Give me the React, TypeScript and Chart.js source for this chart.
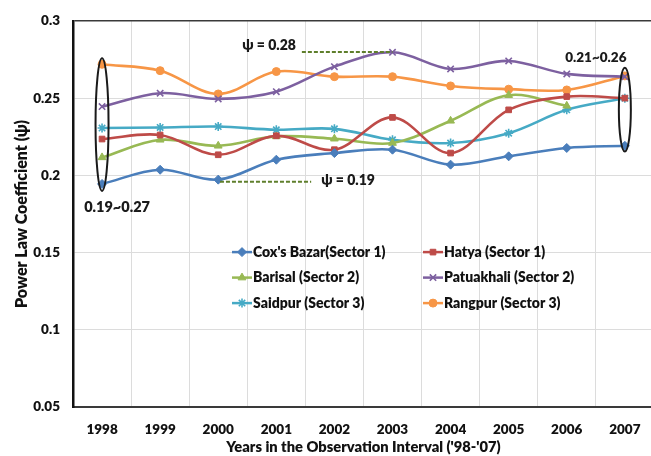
import { useEffect, useRef } from 'react';
import { Chart, registerables } from 'chart.js';
import { drawPoint } from 'chart.js/helpers';

Chart.register(...registerables);

const years = ['1998', '1999', '2000', '2001', '2002', '2003', '2004', '2005', '2006', '2007'];

const coxsBazar = [0.1945, 0.2037, 0.1973, 0.2102, 0.2145, 0.2167, 0.207, 0.2124, 0.2178, 0.2192];
const hatya = [0.2236, 0.2262, 0.2134, 0.2257, 0.2167, 0.2376, 0.2145, 0.2425, 0.2511, 0.2501];
const barisal = [0.2117, 0.2231, 0.2192, 0.2253, 0.2238, 0.221, 0.2354, 0.252, 0.2451, null];
const patuakhali = [0.2446, 0.2533, 0.2496, 0.2543, 0.2705, 0.2798, 0.269, 0.2742, 0.2658, 0.264];
const saidpur = [0.2307, 0.2311, 0.2317, 0.2296, 0.2302, 0.2231, 0.221, 0.2274, 0.2425, 0.25];
const rangpur = [0.272, 0.2679, 0.2528, 0.2673, 0.264, 0.264, 0.258, 0.2559, 0.2554, 0.2645];

const seriesNames = [
  "Cox's Bazar(Sector 1)",
  'Hatya (Sector 1)',
  'Barisal (Sector 2)',
  'Patuakhali (Sector 2)',
  'Saidpur (Sector 3)',
  'Rangpur (Sector 3)',
];

const yMin = 0.05;
const yMax = 0.3;
const yStep = 0.05;

// range brackets (ellipses) drawn around a year's spread of values
const rangeIndex = [0, 9];
const rangeLow = [0.19, 0.2155];
const rangeHigh = [0.276, 0.2697];
const rangeText = ['0.19~0.27', '0.21~0.26'];

// dashed call-outs to extreme values
const calloutValue = [0.28, 0.196];
const calloutFrom = [3.44, 2.03];
const calloutTo = [5, 3.6];
const calloutText = ['\u03C8 = 0.28', '\u03C8 = 0.19'];

const FONT = "Lato, 'DejaVu Sans', sans-serif";
const W = 800;

const colors = ['#4A7EBB', '#BE4B48', '#98B954', '#7D60A0', '#46AAC5', '#F79646'];
const styles = ['rectRot', 'rect', 'triangle', 'crossRot', 'star', 'circle'];
const radii = [4.5, 4, 4.5, 4.5, 4.5, 4];

const overlayPlugin = {
  id: 'overlay',
  afterDatasetsDraw(chart: any) {
    const { ctx, chartArea, scales } = chart;
    const xs = scales.x;
    const ys = scales.y;
    ctx.save();

    // ellipses + range labels
    ctx.fillStyle = '#1a1a1a';
    ctx.textBaseline = 'middle';
    for (let i = 0; i < rangeIndex.length; i++) {
      const cx = xs.getPixelForValue(rangeIndex[i]);
      const yTop = ys.getPixelForValue(rangeHigh[i]);
      const yBot = ys.getPixelForValue(rangeLow[i]);
      ctx.beginPath();
      ctx.strokeStyle = '#1a1a1a';
      ctx.lineWidth = 2;
      ctx.ellipse(cx, (yTop + yBot) / 2, i === 0 ? 6.5 : 6, (yBot - yTop) / 2, 0, 0, Math.PI * 2);
      ctx.stroke();
      ctx.textAlign = 'center';
      if (i === 0) {
        ctx.font = `${W} 14.5px ${FONT}`;
        ctx.fillText(rangeText[i], cx + 15, yBot + 16);
      } else {
        ctx.font = `${W} 13.5px ${FONT}`;
        ctx.fillText(rangeText[i], cx - 29, yTop - 10);
      }
    }

    // dashed callouts
    ctx.font = `${W} 14px ${FONT}`;
    for (let i = 0; i < calloutValue.length; i++) {
      const y = ys.getPixelForValue(calloutValue[i]);
      const x1 = xs.getPixelForValue(calloutFrom[i]);
      const x2 = xs.getPixelForValue(calloutTo[i]);
      ctx.beginPath();
      ctx.setLineDash([4, 2]);
      ctx.strokeStyle = '#5F7F2C';
      ctx.lineWidth = 2;
      ctx.moveTo(x1, y);
      ctx.lineTo(x2, y);
      ctx.stroke();
      ctx.setLineDash([]);
      ctx.fillStyle = '#1a1a1a';
      if (i === 0) {
        ctx.textAlign = 'right';
        ctx.fillText(calloutText[i], x1 - 6, y - 6);
      } else {
        ctx.textAlign = 'left';
        ctx.fillText(calloutText[i], x2 + 10, y - 1);
      }
    }

    // legend inside the plot area, 2 columns x 3 rows
    ctx.font = `${W} 14px ${FONT}`;
    ctx.textAlign = 'left';
    chart.data.datasets.forEach((ds: any, i: number) => {
      const col = i % 2;
      const row = Math.floor(i / 2);
      const x0 = chartArea.left + 159 + col * 191;
      const y0 = chartArea.top + 231 + row * 25.5;
      ctx.beginPath();
      ctx.strokeStyle = ds.borderColor;
      ctx.lineWidth = 2.5;
      ctx.moveTo(x0, y0);
      ctx.lineTo(x0 + 20, y0);
      ctx.stroke();
      ctx.fillStyle = ds.pointBackgroundColor;
      ctx.strokeStyle = ds.pointBorderColor;
      ctx.lineWidth = ds.pointBorderWidth;
      drawPoint(ctx, { pointStyle: ds.pointStyle, radius: ds.pointRadius, rotation: 0, borderWidth: ds.pointBorderWidth }, x0 + 10, y0);
      ctx.fillStyle = '#111';
      ctx.fillText(ds.label, x0 + 21, y0);
    });
    ctx.restore();
  },
};

export default function App() {
  const ref = useRef<HTMLCanvasElement>(null);
  useEffect(() => {
    const seriesValues = [coxsBazar, hatya, barisal, patuakhali, saidpur, rangpur];
    const chart = new Chart(ref.current!, {
      type: 'line',
      data: {
        labels: years,
        datasets: seriesValues.map((vals, i) => ({
          label: seriesNames[i],
          data: vals,
          borderColor: colors[i],
          backgroundColor: colors[i],
          pointBackgroundColor: colors[i],
          pointBorderColor: colors[i],
          pointBorderWidth: styles[i] === 'crossRot' || styles[i] === 'star' ? 1.6 : 1,
          pointStyle: styles[i] as any,
          pointRadius: radii[i],
          borderWidth: 2.6,
          tension: 0.35,
          fill: false,
        })),
      },
      options: {
        animation: false,
        responsive: true,
        maintainAspectRatio: false,
        layout: { padding: { left: 0, right: 2, top: 21, bottom: 0 } },
        plugins: {
          legend: { display: false },
          tooltip: { enabled: false },
        },
        scales: {
          x: {
            type: 'category',
            offset: true,
            grid: { offset: true, color: '#DCDCDC', lineWidth: 1, drawTicks: false },
            border: { display: true, color: '#3a3a3a', width: 2 },
            ticks: { color: '#111', font: { family: FONT, size: 13.5, weight: W as any }, padding: 15, maxRotation: 0, autoSkip: false },
            title: {
              display: true,
              text: "Years in the Observation Interval ('98-'07)",
              color: '#111',
              font: { family: FONT, size: 14.7, weight: W as any },
              padding: { top: 0, bottom: 0 },
            },
            afterFit: (s: any) => { s.height = 49; },
          },
          y: {
            min: yMin,
            max: yMax,
            grid: {
              color: (c: any) => (c.tick && Math.abs(c.tick.value - yMax) < 1e-6 ? '#3a3a3a' : '#DCDCDC'),
              lineWidth: (c: any) => (c.tick && Math.abs(c.tick.value - yMax) < 1e-6 ? 1.5 : 1),
              drawTicks: false,
            },
            border: { display: true, color: '#111', width: 2.5 },
            ticks: {
              stepSize: yStep,
              color: '#111',
              font: { family: FONT, size: 13.5, weight: W as any },
              padding: 13,
              callback: (v: any) => String(Number(Number(v).toFixed(2))),
            },
            title: {
              display: true,
              text: 'Power Law Coefficient (\u03C8)',
              color: '#111',
              font: { family: FONT, size: 16, weight: W as any },
              padding: { top: 12, bottom: 0 },
            },
            afterFit: (s: any) => { s.width = 73; },
          },
        },
      },
      plugins: [overlayPlugin],
    });
    return () => chart.destroy();
  }, []);
  return (
    <div style={{ position: 'fixed', left: 0, top: 0, width: 651, height: 456, overflow: 'hidden', background: '#fff' }}>
      <div style={{ position: 'relative', width: 660, height: 456 }}>
        <canvas ref={ref} />
      </div>
    </div>
  );
}
